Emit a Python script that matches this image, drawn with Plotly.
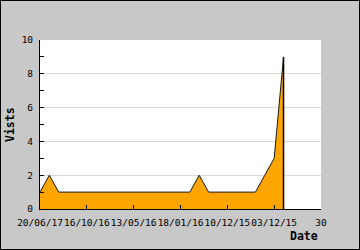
import plotly.graph_objects as go

x_idx = list(range(27))
visits = [1, 2, 1, 1, 1, 1, 1, 1, 1, 1, 1, 1, 1, 1, 1, 1, 1, 2, 1, 1, 1, 1, 1, 1, 2, 3, 9]
tick_vals = [0, 5, 10, 15, 20, 25, 30]
tick_text = ["20/06/17", "16/10/16", "13/05/16", "18/01/16", "10/12/15", "03/12/15", "30"]
y_title = "Vists"
x_title = "Date"

FONT = "DejaVu Sans Mono"
L, R, T, B = 40, 39, 40, 41
W = 360 - L - R
H = 250 - T - B

fig = go.Figure()
fig.add_trace(go.Scatter(
    x=x_idx, y=visits, mode="lines", fill="tozeroy",
    fillcolor="#ffa500", line=dict(color="#1a1a1a", width=1),
    hoverinfo="skip", showlegend=False))
fig.add_trace(go.Scatter(
    x=[x_idx[-1], x_idx[-1]], y=[visits[-1], 0], mode="lines",
    line=dict(color="black", width=1.5), hoverinfo="skip", showlegend=False))

fig.update_layout(
    width=360, height=250,
    margin=dict(l=L, r=R, t=T, b=B, autoexpand=False),
    paper_bgcolor="#c8c8c8", plot_bgcolor="white",
    font=dict(family=FONT, size=9, color="black"),
    showlegend=False,
    xaxis=dict(range=[0, 30], tickvals=tick_vals, ticktext=tick_text,
               tickangle=0, automargin=False, ticklabelstandoff=5,
               ticks="inside", ticklen=4, tickcolor="black",
               showline=True, linecolor="black", linewidth=1,
               showgrid=False, zeroline=False, fixedrange=True,
               tickfont=dict(family=FONT, size=9.5)),
    yaxis=dict(range=[0, 10], dtick=2, ticks="inside", ticklen=4,
               automargin=False, ticklabelstandoff=4,
               tickcolor="black", showline=True, linecolor="black",
               linewidth=1, showgrid=True, gridcolor="#d9d9d9",
               zeroline=False, fixedrange=True,
               minor=dict(dtick=1, ticks="inside", ticklen=4,
                          tickcolor="black", showgrid=False),
               tickfont=dict(family=FONT, size=9.5)),
    shapes=[dict(type="rect", xref="paper", yref="paper",
                 x0=(0.5 - L) / W, x1=(359.5 - L) / W,
                 y0=(H - 249.5 + T) / H, y1=(H + T - 0.5) / H,
                 line=dict(color="black", width=1), layer="below")],
    annotations=[
        dict(text=f"<b>{y_title}</b>", xref="paper", yref="paper",
             x=(9.5 - L) / W, y=0.5, textangle=-90, showarrow=False,
             xanchor="center", yanchor="middle",
             font=dict(family=FONT, size=11.5)),
        dict(text=f"<b>{x_title}</b>", xref="paper", yref="paper",
             x=(320 - L) / W, y=(H + T - 236) / H, showarrow=False,
             xanchor="right", yanchor="middle",
             font=dict(family=FONT, size=11.5)),
    ],
)

fig.write_html("out.html")
